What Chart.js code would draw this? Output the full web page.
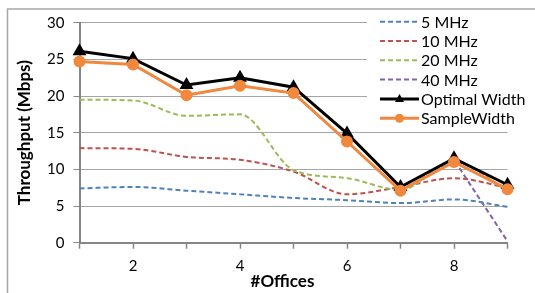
<!DOCTYPE html>
<html lang="en">
<head>
<meta charset="utf-8">
<title>Throughput vs Offices</title>
<script src="https://cdn.jsdelivr.net/npm/chart.js@4.4.1/dist/chart.umd.min.js"></script>
<style>
  body { margin: 0; background: #fff; }
  canvas { display: block; }
</style>
</head>
<body>
<canvas id="c" width="535" height="293"></canvas>
<script>
// values
var offices  = [1, 2, 3, 4, 5, 6, 7, 8, 9];
var mhz5     = [7.4, 7.6, 7.1, 6.6, 6.1, 5.8, 5.4, 5.9, 4.9];
var mhz10    = [12.9, 12.8, 11.7, 11.3, 9.7, 6.6, 7.6, 8.8, 7.5];
var mhz20    = [19.5, 19.4, 17.3, 17.5, 9.9, 8.8, 7.2, 11.0, 7.1];
var mhz40    = [24.7, 24.3, 20.1, 21.4, 20.4, 13.8, 7.1, 11.3, 0.2];
var optimal  = [26.1, 25.1, 21.5, 22.5, 21.2, 14.9, 7.6, 11.5, 7.9];
var sample   = [24.7, 24.3, 20.1, 21.4, 20.4, 13.8, 7.1, 11.0, 7.3];
var xLabels  = [2, 4, 6, 8];
var yTicks   = [0, 5, 10, 15, 20, 25, 30];

function pts(arr) {
  return arr.map(function (v, i) { return { x: offices[i], y: v }; });
}

function dashed(label, arr, color, order) {
  return {
    label: label, data: pts(arr), order: order,
    borderColor: color, backgroundColor: color,
    borderWidth: 2, borderDash: [5, 3],
    pointRadius: 0, cubicInterpolationMode: 'monotone', clip: false
  };
}

var FONT = 'Lato, "Open Sans", sans-serif';

// white legend box drawn over the plot, like the original
var legendBox = {
  id: 'legendBox',
  beforeDraw: function (chart) {
    var ctx = chart.ctx;
    ctx.save();
    ctx.strokeStyle = '#a6a6a6';
    ctx.lineWidth = 1.5;
    ctx.strokeRect(7.5, 9, 540, 300);
    ctx.restore();
  },
  afterDatasetsDraw: function (chart) {
    var ctx = chart.ctx;
    ctx.save();
    ctx.fillStyle = '#fff';
    ctx.fillRect(367, 10, 168, 118);
    var y0 = 21.7, step = 19.3;
    chart.data.datasets.forEach(function (ds, i) {
      var y = y0 + i * step;
      ctx.strokeStyle = ds.borderColor;
      ctx.lineWidth = ds.borderWidth;
      ctx.setLineDash(ds.borderDash || []);
      ctx.beginPath();
      ctx.moveTo(380, y);
      ctx.lineTo(419, y);
      ctx.stroke();
      ctx.setLineDash([]);
      ctx.fillStyle = ds.borderColor;
      if (ds.pointStyle === 'triangle') {
        ctx.beginPath();
        ctx.moveTo(399.5, y - 5);
        ctx.lineTo(404, y + 3);
        ctx.lineTo(395, y + 3);
        ctx.closePath();
        ctx.fill();
      } else if (ds.pointStyle === 'circle') {
        ctx.beginPath();
        ctx.arc(399.5, y, 4.5, 0, Math.PI * 2);
        ctx.fill();
      }
      ctx.fillStyle = '#000';
      ctx.font = '16px ' + FONT;
      ctx.textAlign = 'left';
      ctx.textBaseline = 'middle';
      ctx.fillText(ds.label, 421, y + 1);
    });
    ctx.restore();
  },
  afterDraw: function (chart) {
    var ctx = chart.ctx;
    ctx.save();
    ctx.fillStyle = '#000';
    ctx.font = 'bold 17px ' + FONT;
    ctx.textAlign = 'center';
    ctx.textBaseline = 'middle';
    ctx.fillText('#Offices', 282.5, 282);
    ctx.restore();
  }
};

var ctx = document.getElementById('c').getContext('2d');
var chart = new Chart(ctx, {
  type: 'line',
  data: {
    datasets: [
      dashed('5 MHz', mhz5, '#4f81bd', 5),
      dashed('10 MHz', mhz10, '#c0504d', 4),
      dashed('20 MHz', mhz20, '#9bbb59', 3),
      Object.assign(dashed('40 MHz', mhz40, '#8064a2', 6), { cubicInterpolationMode: 'default', tension: 0 }),
      {
        label: 'Optimal Width', data: pts(optimal), order: 1,
        borderColor: '#000', backgroundColor: '#000',
        borderWidth: 3, pointStyle: 'triangle', pointRadius: 5,
        tension: 0, clip: false
      },
      {
        label: 'SampleWidth', data: pts(sample), order: 0,
        borderColor: '#f0883e', backgroundColor: '#f0883e',
        borderWidth: 3, pointStyle: 'circle', pointRadius: 4.5,
        tension: 0, clip: false
      }
    ]
  },
  options: {
    responsive: false,
    devicePixelRatio: 1,
    animation: false,
    layout: { padding: { left: 0, right: 27.5, top: 22.7, bottom: 0 } },
    plugins: { legend: { display: false }, tooltip: { enabled: false } },
    scales: {
      x: {
        type: 'linear', min: 1, max: 9,
        afterFit: function (s) { s.height = 50.3; },
        ticks: {
          stepSize: 1, padding: 8, color: '#000',
          font: { family: FONT, size: 15 },
          callback: function (v) { return xLabels.indexOf(v) >= 0 ? String(v) : ''; }
        },
        grid: { drawOnChartArea: false, drawTicks: true, tickLength: 6, tickColor: '#868686', tickWidth: 1.5 },
        border: { color: '#868686', width: 2 }
      },
      y: {
        min: 0, max: 30,
        afterFit: function (s) { s.width = 79.5; },
        afterBuildTicks: function (s) { s.ticks = yTicks.map(function (v) { return { value: v }; }); },
        ticks: { padding: 9, color: '#000', font: { family: FONT, size: 15 } },
        grid: { color: '#a6a6a6', lineWidth: 1, drawTicks: true, tickLength: 6, tickColor: '#868686' },
        border: { color: '#868686', width: 2 },
        title: {
          display: true, text: 'Throughput (Mbps)', color: '#000',
          font: { family: FONT, size: 17, weight: 'bold' },
          padding: { top: 14, bottom: 0 }
        }
      }
    }
  },
  plugins: [legendBox]
});
</script>
</body>
</html>
